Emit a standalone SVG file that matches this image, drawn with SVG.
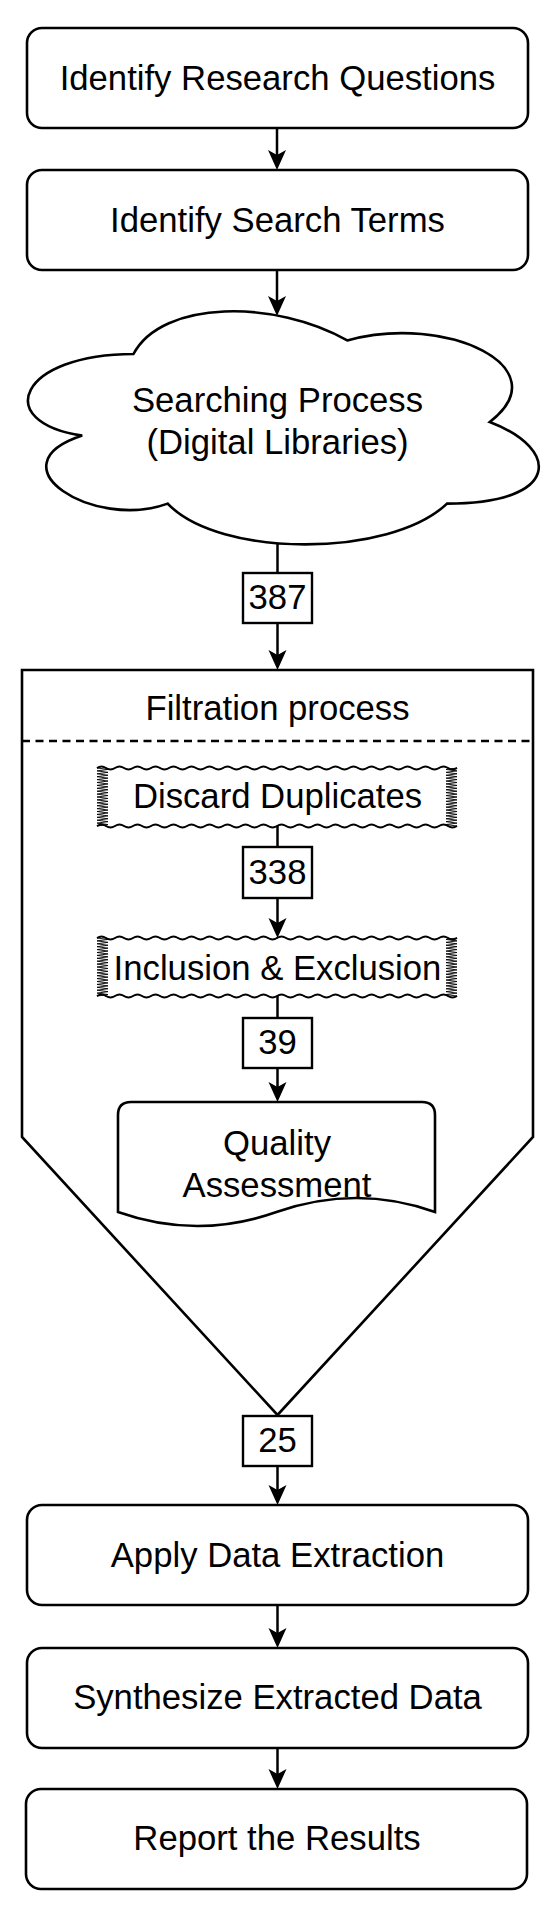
<svg xmlns="http://www.w3.org/2000/svg" xmlns:xlink="http://www.w3.org/1999/xlink" width="550" height="1912" viewBox="0 0 550 1912">
<style>
.box{fill:#fff;stroke:#000;stroke-width:2.6}
.lbl{fill:#fff;stroke:#000;stroke-width:2.4}
.t{font-family:"Liberation Sans",Arial,sans-serif;font-size:34.7px;fill:#000;text-anchor:middle}
.ln{fill:none;stroke:#000;stroke-width:2.5}
.tape{fill:#fff;stroke:#000;stroke-width:0.9;stroke-linejoin:miter}
.wave{fill:none;stroke:#000;stroke-width:2}
</style>
<defs>
<marker id="ah" markerUnits="userSpaceOnUse" markerWidth="22" markerHeight="20" viewBox="0 0 22 20" refX="5" refY="9" orient="auto">
<path d="M20,9 L0,0 L5,9 L0,18 Z" fill="#000"/>
</marker>
<g id="tapeShape">
<path class="tape" d="M0,0 q4.5,-3 9,0 t9,0 t9,0 t9,0 t9,0 t9,0 t9,0 t9,0 t9,0 t9,0 t9,0 t9,0 t9,0 t9,0 t9,0 t9,0 t9,0 t9,0 t9,0 t9,0 t9,0 t9,0 t9,0 t9,0 t9,0 t9,0 t9,0 t9,0 t9,0 t9,0 t9,0 t9,0 t9,0 t9,0 t9,0 t9,0 t9,0 t9,0 t9,0 t9,0 l-11,1.45 l11,1.45 l-11,1.45 l11,1.45 l-11,1.45 l11,1.45 l-11,1.45 l11,1.45 l-11,1.45 l11,1.45 l-11,1.45 l11,1.45 l-11,1.45 l11,1.45 l-11,1.45 l11,1.45 l-11,1.45 l11,1.45 l-11,1.45 l11,1.45 l-11,1.45 l11,1.45 l-11,1.45 l11,1.45 l-11,1.45 l11,1.45 l-11,1.45 l11,1.45 l-11,1.45 l11,1.45 l-11,1.45 l11,1.45 l-11,1.45 l11,1.45 l-11,1.45 l11,1.45 l-11,1.45 l11,1.45 l-11,1.45 l11,1.45 q-4.5,3 -9,0 t-9,0 t-9,0 t-9,0 t-9,0 t-9,0 t-9,0 t-9,0 t-9,0 t-9,0 t-9,0 t-9,0 t-9,0 t-9,0 t-9,0 t-9,0 t-9,0 t-9,0 t-9,0 t-9,0 t-9,0 t-9,0 t-9,0 t-9,0 t-9,0 t-9,0 t-9,0 t-9,0 t-9,0 t-9,0 t-9,0 t-9,0 t-9,0 t-9,0 t-9,0 t-9,0 t-9,0 t-9,0 t-9,0 t-9,0 l11,-1.45 l-11,-1.45 l11,-1.45 l-11,-1.45 l11,-1.45 l-11,-1.45 l11,-1.45 l-11,-1.45 l11,-1.45 l-11,-1.45 l11,-1.45 l-11,-1.45 l11,-1.45 l-11,-1.45 l11,-1.45 l-11,-1.45 l11,-1.45 l-11,-1.45 l11,-1.45 l-11,-1.45 l11,-1.45 l-11,-1.45 l11,-1.45 l-11,-1.45 l11,-1.45 l-11,-1.45 l11,-1.45 l-11,-1.45 l11,-1.45 l-11,-1.45 l11,-1.45 l-11,-1.45 l11,-1.45 l-11,-1.45 l11,-1.45 l-11,-1.45 l11,-1.45 l-11,-1.45 l11,-1.45 l-11,-1.45 Z"/>
<path class="wave" d="M0,0 q4.5,-3 9,0 t9,0 t9,0 t9,0 t9,0 t9,0 t9,0 t9,0 t9,0 t9,0 t9,0 t9,0 t9,0 t9,0 t9,0 t9,0 t9,0 t9,0 t9,0 t9,0 t9,0 t9,0 t9,0 t9,0 t9,0 t9,0 t9,0 t9,0 t9,0 t9,0 t9,0 t9,0 t9,0 t9,0 t9,0 t9,0 t9,0 t9,0 t9,0 t9,0"/>
<path class="wave" d="M360,58 q-4.5,3 -9,0 t-9,0 t-9,0 t-9,0 t-9,0 t-9,0 t-9,0 t-9,0 t-9,0 t-9,0 t-9,0 t-9,0 t-9,0 t-9,0 t-9,0 t-9,0 t-9,0 t-9,0 t-9,0 t-9,0 t-9,0 t-9,0 t-9,0 t-9,0 t-9,0 t-9,0 t-9,0 t-9,0 t-9,0 t-9,0 t-9,0 t-9,0 t-9,0 t-9,0 t-9,0 t-9,0 t-9,0 t-9,0 t-9,0 t-9,0"/>
</g>
</defs>
<rect width="550" height="1912" fill="#fff"/>

<g id="filtration">
<path class="box" d="M22,670 L533,670 L533,1137 L277.5,1415 L22,1137 Z"/>
<line x1="22" y1="741" x2="533" y2="741" stroke="#000" stroke-width="2.6" stroke-dasharray="8 5.5"/>
<text class="t" x="277.5" y="720">Filtration process</text>
</g>

<g id="connectors">
<line class="ln" x1="277" y1="128" x2="277" y2="155" marker-end="url(#ah)"/>
<line class="ln" x1="277" y1="270" x2="277" y2="301" marker-end="url(#ah)"/>
<line class="ln" x1="277.5" y1="543" x2="277.5" y2="573"/>
<line class="ln" x1="277.5" y1="623" x2="277.5" y2="655" marker-end="url(#ah)"/>
<line class="ln" x1="277.5" y1="826" x2="277.5" y2="847"/>
<line class="ln" x1="277.5" y1="898" x2="277.5" y2="923" marker-end="url(#ah)"/>
<line class="ln" x1="277.5" y1="996" x2="277.5" y2="1018"/>
<line class="ln" x1="277.5" y1="1068" x2="277.5" y2="1087" marker-end="url(#ah)"/>
<line class="ln" x1="277.5" y1="1466" x2="277.5" y2="1490" marker-end="url(#ah)"/>
<line class="ln" x1="277.5" y1="1605" x2="277.5" y2="1633" marker-end="url(#ah)"/>
<line class="ln" x1="277.5" y1="1748" x2="277.5" y2="1774" marker-end="url(#ah)"/>
</g>

<g id="n1">
<rect class="box" x="27" y="28" width="501" height="100" rx="15"/>
<text class="t" x="277.5" y="90">Identify Research Questions</text>
</g>
<g id="n2">
<rect class="box" x="27" y="170" width="501" height="100" rx="15"/>
<text class="t" x="277.5" y="232">Identify Search Terms</text>
</g>
<g id="n3">
<path class="box" d="M133.5,354 C19.5,354 -9,422 82.2,435.6 C-9,465.5 93.6,530.8 167.7,503.6 C219,558 390,558 447,503.6 C561,503.6 561,449.2 489.75,422 C561,367.6 447,313.2 347.25,340.4 C276,299.6 162,299.6 133.5,354 Z"/>
<text class="t" x="277.5" y="412">Searching Process</text>
<text class="t" x="277.5" y="454">(Digital Libraries)</text>
</g>
<g id="l387">
<rect class="lbl" x="243" y="573" width="69" height="50"/>
<text class="t" x="277.5" y="609">387</text>
</g>
<g id="n4">
<use xlink:href="#tapeShape" x="97" y="768"/>
<text class="t" x="277.5" y="808">Discard Duplicates</text>
</g>
<g id="l338">
<rect class="lbl" x="243" y="847" width="69" height="51"/>
<text class="t" x="277.5" y="884">338</text>
</g>
<g id="n5">
<use xlink:href="#tapeShape" x="97" y="938"/>
<text class="t" x="277.5" y="980">Inclusion &amp; Exclusion</text>
</g>
<g id="l39">
<rect class="lbl" x="243" y="1018" width="69" height="50"/>
<text class="t" x="277.5" y="1054">39</text>
</g>
<g id="n6">
<path class="box" d="M118,1212 L118,1115 Q118,1102 131,1102 L422,1102 Q435,1102 435,1115 L435,1212 Q356.75,1184 276.5,1212 Q197.25,1240 118,1212 Z"/>
<text class="t" x="277" y="1155">Quality</text>
<text class="t" x="277" y="1197">Assessment</text>
</g>
<g id="l25">
<rect class="lbl" x="243" y="1416" width="69" height="50"/>
<text class="t" x="277.5" y="1452">25</text>
</g>
<g id="n7">
<rect class="box" x="27" y="1505" width="501" height="100" rx="15"/>
<text class="t" x="277.5" y="1567">Apply Data Extraction</text>
</g>
<g id="n8">
<rect class="box" x="27" y="1648" width="501" height="100" rx="15"/>
<text class="t" x="277.5" y="1709">Synthesize Extracted Data</text>
</g>
<g id="n9">
<rect class="box" x="26" y="1789" width="501" height="100" rx="15"/>
<text class="t" x="277" y="1850">Report the Results</text>
</g>
</svg>
